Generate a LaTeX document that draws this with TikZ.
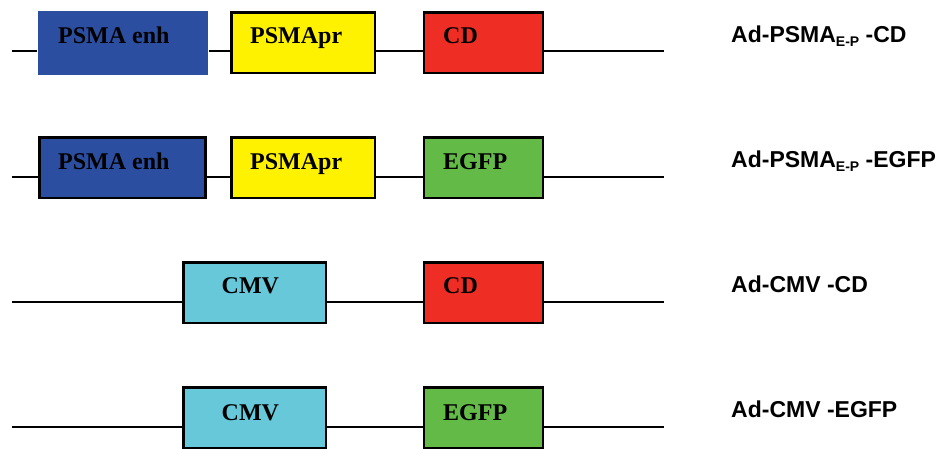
\documentclass[tikz,border=0pt]{standalone}
\usepackage{fontspec}
\setmainfont{Liberation Serif}
\newfontfamily\labfont{Liberation Sans}
\definecolor{enhblue}{HTML}{2C4EA0}
\definecolor{pryellow}{HTML}{FFF200}
\definecolor{cdred}{HTML}{EE2E24}
\definecolor{gfpgreen}{HTML}{63BA47}
\definecolor{cmvcyan}{HTML}{66C8D8}
\begin{document}
\begin{tikzpicture}[x=1pt,y=-1pt,
  genebox/.style={rectangle, draw=black, line width=2.5pt, minimum height=60.5pt, inner sep=0pt, anchor=north west},
  boxtext/.style={font=\fontsize{24}{28}\selectfont\bfseries, anchor=base west, inner sep=0pt, text=black},
  lab/.style={font=\labfont\fontsize{23}{27}\selectfont\bfseries, anchor=base west, inner sep=0pt},
  dna/.style={line width=2pt, black}]
\fill[white] (0,0) rectangle (948,449);
\useasboundingbox (0,0) rectangle (948,449);

% ---------- Row 1 ----------
\coordinate (s1) at (12,51.5);
\coordinate (f1) at (664,51.5);
\node[genebox, draw=none, fill=enhblue, minimum width=170pt, minimum height=64pt] (e1) at (36.5,9.3) {};
\node[genebox, fill=pryellow, minimum width=143.5pt] (p1) at (230.2,11.2) {};
\node[genebox, fill=cdred, minimum width=119pt] (c1) at (422.7,11.2) {};
\draw[dna] (s1) -- (s1 -| e1.west) (s1 -| e1.east) -- (s1 -| p1.west)
           (s1 -| p1.east) -- (s1 -| c1.west) (s1 -| c1.east) -- (f1);
\node[boxtext] (te1) at (58,44) {PSMA enh};
\node[boxtext] (tp1) at (250,44) {PSMApr};
\node[boxtext] (tc1) at (443,44) {CD};
\node[lab] (l1) at (731,43) {Ad-PSMA\raisebox{-4pt}{\fontsize{14}{14}\selectfont E-P} -CD};

% ---------- Row 2 ----------
\coordinate (s2) at (12,176.7);
\coordinate (f2) at (664,176.7);
\node[genebox, fill=enhblue, minimum width=166pt] (e2) at (38,136.2) {};
\node[genebox, fill=pryellow, minimum width=143.5pt] (p2) at (230.2,136.2) {};
\node[genebox, fill=gfpgreen, minimum width=119pt] (g2) at (422.7,136.2) {};
\draw[dna] (s2) -- (s2 -| e2.west) (s2 -| e2.east) -- (s2 -| p2.west)
           (s2 -| p2.east) -- (s2 -| g2.west) (s2 -| g2.east) -- (f2);
\node[boxtext] (te2) at (58,170) {PSMA enh};
\node[boxtext] (tp2) at (250,170) {PSMApr};
\node[boxtext] (tg2) at (443,170) {EGFP};
\node[lab] (l2) at (731,168) {Ad-PSMA\raisebox{-4pt}{\fontsize{14}{14}\selectfont E-P} -EGFP};

% ---------- Row 3 ----------
\coordinate (s3) at (12,301.7);
\coordinate (f3) at (664,301.7);
\node[genebox, fill=cmvcyan, minimum width=142.5pt] (m3) at (182.2,261.2) {};
\node[genebox, fill=cdred, minimum width=119pt] (c3) at (422.7,261.2) {};
\draw[dna] (s3) -- (s3 -| m3.west) (s3 -| m3.east) -- (s3 -| c3.west)
           (s3 -| c3.east) -- (f3);
\node[boxtext] (tm3) at (221.5,294) {CMV};
\node[boxtext] (tc3) at (443,294) {CD};
\node[lab] (l3) at (731,292.5) {Ad-CMV -CD};

% ---------- Row 4 ----------
\coordinate (s4) at (12,426.7);
\coordinate (f4) at (664,426.7);
\node[genebox, fill=cmvcyan, minimum width=142.5pt] (m4) at (182.2,386.2) {};
\node[genebox, fill=gfpgreen, minimum width=119pt] (g4) at (422.7,386.2) {};
\draw[dna] (s4) -- (s4 -| m4.west) (s4 -| m4.east) -- (s4 -| g4.west)
           (s4 -| g4.east) -- (f4);
\node[boxtext] (tm4) at (221.5,420) {CMV};
\node[boxtext] (tg4) at (443,420) {EGFP};
\node[lab] (l4) at (731,417.5) {Ad-CMV -EGFP};
\end{tikzpicture}
\end{document}
